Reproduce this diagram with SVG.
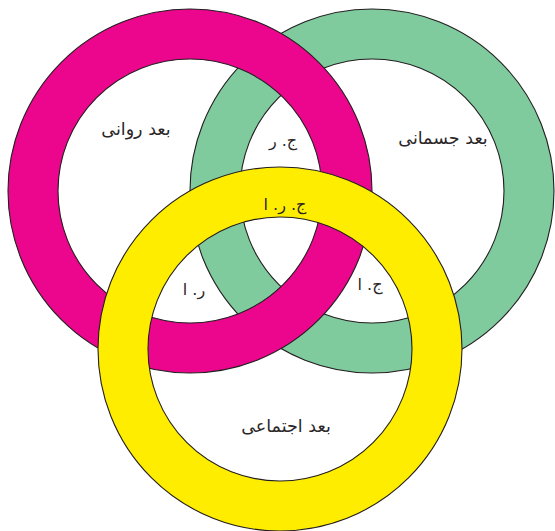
<svg xmlns="http://www.w3.org/2000/svg" width="555" height="531" viewBox="0 0 555 531">
<style>
.ring{fill-rule:evenodd;stroke:#231f20;stroke-width:1.1}
.lbl{font-family:"DejaVu Sans",sans-serif;font-size:17.5px;fill:#2b2627;text-anchor:middle;direction:rtl}
.sm{font-size:16px}
</style>
<rect width="555" height="531" fill="#ffffff"/>
<g id="ring-physical">
<path class="ring" fill="#80cb9e" d="M190,191 A182,182 0 1 0 554,191 A182,182 0 1 0 190,191 Z M240,191 A132,132 0 1 0 504,191 A132,132 0 1 0 240,191 Z"/>
</g>
<g id="ring-mental">
<path class="ring" fill="#ec068d" d="M8,191 A182,182 0 1 0 372,191 A182,182 0 1 0 8,191 Z M58,191 A132,132 0 1 0 322,191 A132,132 0 1 0 58,191 Z"/>
</g>
<g id="ring-social">
<path class="ring" fill="#ffed00" d="M98,349 A182,182 0 1 0 462,349 A182,182 0 1 0 98,349 Z M148,349 A132,132 0 1 0 412,349 A132,132 0 1 0 148,349 Z"/>
</g>
<g id="labels">
<text class="lbl" x="136" y="135">بعد روانی</text>
<text class="lbl" x="443" y="144">بعد جسمانی</text>
<text class="lbl" x="286" y="432">بعد اجتماعی</text>
<text class="lbl sm" x="283" y="146">ج. ر</text>
<text class="lbl sm" x="285" y="210">ج. ر. ا</text>
<text class="lbl sm" x="194" y="295">ر. ا</text>
<text class="lbl sm" x="370" y="290">ج. ا</text>
</g>
</svg>
